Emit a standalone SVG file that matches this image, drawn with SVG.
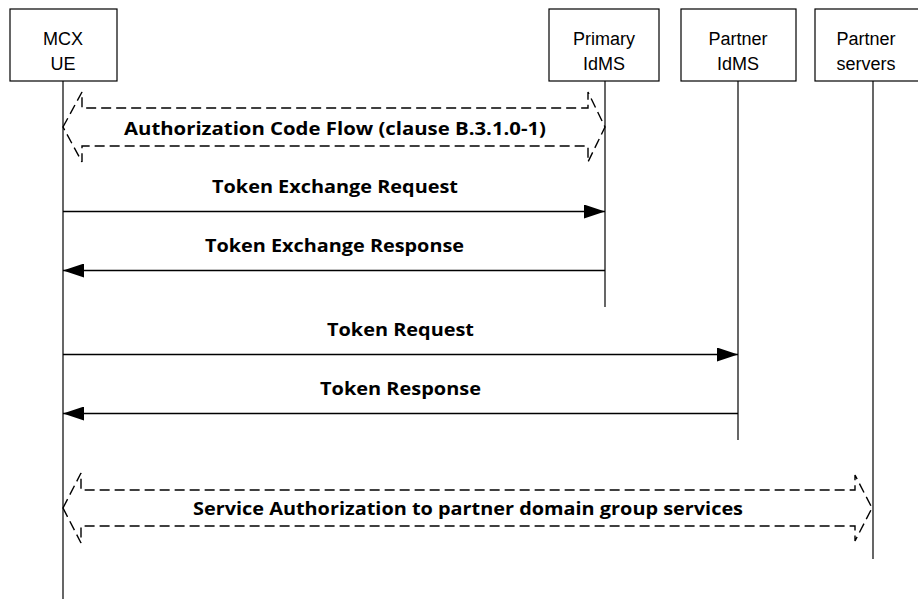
<svg xmlns="http://www.w3.org/2000/svg" width="918" height="599" viewBox="0 0 918 599">
<defs>
<marker id="ah" markerWidth="21" markerHeight="14" refX="21" refY="7" orient="auto" markerUnits="userSpaceOnUse">
<path d="M0,0 L21,7 L0,14 Z" fill="#000"/>
</marker>
<style>
.box{fill:#fff;stroke:#000;stroke-width:1.2}
.bl{font-family:"Liberation Sans",Arial,sans-serif;font-size:18px;fill:#000;text-anchor:middle}
.life{stroke:#404040;stroke-width:1.6;fill:none}
.msg{stroke:#000;stroke-width:1.3;fill:none}
.blk{stroke:#000;stroke-width:1.4;fill:none;stroke-dasharray:10,5}
.ml{font-family:"Open Sans","Liberation Sans",sans-serif;font-weight:bold;font-size:17px;fill:#000;text-anchor:middle}
</style>
</defs>
<rect width="918" height="599" fill="#fff"/>
<g id="lifelines">
<line class="life" x1="63" y1="81" x2="63" y2="599"/>
<line class="life" x1="605" y1="81" x2="605" y2="307"/>
<line class="life" x1="738" y1="81" x2="738" y2="440"/>
<line class="life" x1="873" y1="81" x2="873" y2="559"/>
</g>
<g id="mcx-ue">
<rect class="box" x="10" y="9" width="107" height="72"/>
<text class="bl" x="63" y="45">MCX</text>
<text class="bl" x="63" y="70">UE</text>
</g>
<g id="primary-idms">
<rect class="box" x="549" y="9" width="110" height="72"/>
<text class="bl" x="604" y="45">Primary</text>
<text class="bl" x="604" y="70">IdMS</text>
</g>
<g id="partner-idms">
<rect class="box" x="681" y="9" width="115" height="72"/>
<text class="bl" x="738" y="45">Partner</text>
<text class="bl" x="738" y="70">IdMS</text>
</g>
<g id="partner-servers">
<rect class="box" x="815" y="9" width="116" height="72"/>
<text class="bl" x="866" y="45">Partner</text>
<text class="bl" x="866" y="70">servers</text>
</g>
<g id="connectors">
<path class="blk" d="M63,127 L82,92 L82,108 L588,108 L588,92 L605,127 L588,162 L588,146 L82,146 L82,162 Z"/>
<line class="msg" x1="63" y1="211.5" x2="605" y2="211.5" marker-end="url(#ah)"/>
<line class="msg" x1="605" y1="270.5" x2="63" y2="270.5" marker-end="url(#ah)"/>
<line class="msg" x1="63" y1="354.5" x2="738" y2="354.5" marker-end="url(#ah)"/>
<line class="msg" x1="738" y1="413.5" x2="63" y2="413.5" marker-end="url(#ah)"/>
<path class="blk" d="M63,508 L81,473 L81,490 L855,490 L855,475 L872,508 L855,541 L855,526 L81,526 L81,543 Z"/>
</g>
<g id="labels">
<text class="ml" x="335" y="135" textLength="422" lengthAdjust="spacingAndGlyphs">Authorization Code Flow (clause B.3.1.0-1)</text>
<text class="ml" x="335" y="193" textLength="246" lengthAdjust="spacingAndGlyphs">Token Exchange Request</text>
<text class="ml" x="334.5" y="252" textLength="259" lengthAdjust="spacingAndGlyphs">Token Exchange Response</text>
<text class="ml" x="400.5" y="336" textLength="147" lengthAdjust="spacingAndGlyphs">Token Request</text>
<text class="ml" x="400.5" y="395" textLength="161" lengthAdjust="spacingAndGlyphs">Token Response</text>
<text class="ml" x="468" y="515" textLength="550" lengthAdjust="spacingAndGlyphs">Service Authorization to partner domain group services</text>
</g>
</svg>
